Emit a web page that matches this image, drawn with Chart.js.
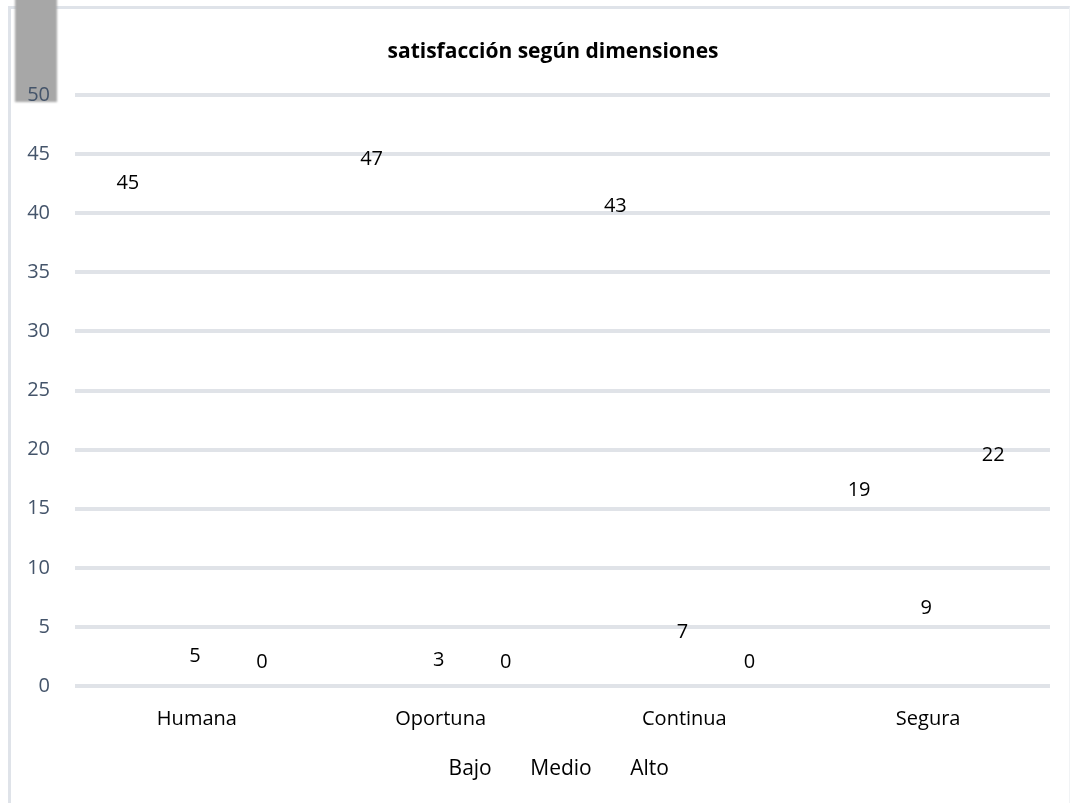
<!DOCTYPE html>
<html>
<head>
<meta charset="utf-8">
<script src="https://cdn.jsdelivr.net/npm/chart.js@4/dist/chart.umd.min.js"></script>
<style>
  html, body { margin: 0; padding: 0; background: #ffffff; }
  #wrap { position: relative; width: 1071px; height: 803px; overflow: hidden; }
  #frame {
    position: absolute; left: 8px; top: 6px; width: 1058px; height: 795px;
    border-left: 3px solid #dfe3e9; border-top: 3px solid #dfe3e9;
    border-right: 1px solid #f1f3f5; border-bottom: 1px solid #f4f5f2;
  }
  #tab {
    position: absolute; left: 15px; top: -4px; width: 42px; height: 106px;
    background: #a7a7a7; filter: blur(1px);
  }
  canvas { position: absolute; left: 0; top: 0; }
</style>
</head>
<body>
<div id="wrap">
  <div id="frame"></div>
  <div id="tab"></div>
  <canvas id="c" width="1071" height="803"></canvas>
</div>
<script>
const categories = ['Humana', 'Oportuna', 'Continua', 'Segura'];
const bajo  = [45, 47, 43, 19];
const medio = [5, 3, 7, 9];
const alto  = [0, 0, 0, 22];
const seriesNames = ['Bajo', 'Medio', 'Alto'];
const yTicks = { min: 0, max: 50, step: 5 };
const chartTitle = 'satisfacción según dimensiones';

const FONT = "'Open Sans', 'Noto Sans', sans-serif";

// Chart heading, drawn slightly right of the canvas centre
const heading = {
  id: 'heading',
  afterDraw(chart) {
    const ctx = chart.ctx;
    ctx.save();
    ctx.font = 'bold 21px ' + FONT;
    ctx.fillStyle = '#000000';
    ctx.textAlign = 'center';
    ctx.textBaseline = 'middle';
    ctx.fillText(chartTitle, 553, 52);
    ctx.restore();
  }
};

// Centre the legend row under the plot rather than the whole canvas
const legendShift = {
  id: 'legendShift',
  afterLayout(chart) {
    if (chart.legend) chart.legend.left = 39;
  }
};

// Value labels placed just inside the top of each bar
const valueLabels = {
  id: 'valueLabels',
  afterDatasetsDraw(chart) {
    const ctx = chart.ctx;
    ctx.save();
    ctx.font = '20px ' + FONT;
    ctx.fillStyle = '#000000';
    ctx.textAlign = 'center';
    ctx.textBaseline = 'middle';
    chart.data.datasets.forEach((ds, i) => {
      const meta = chart.getDatasetMeta(i);
      meta.data.forEach((bar, j) => {
        const y = Math.min(bar.y + 29, bar.base - 24);
        ctx.fillText(String(ds.data[j]), bar.x - 2, y);
      });
    });
    ctx.restore();
  }
};

const invisible = 'rgba(255,255,255,0)';

new Chart(document.getElementById('c'), {
  type: 'bar',
  data: {
    labels: categories,
    datasets: [
      { label: seriesNames[0], data: bajo,  backgroundColor: invisible, borderWidth: 0 },
      { label: seriesNames[1], data: medio, backgroundColor: invisible, borderWidth: 0 },
      { label: seriesNames[2], data: alto,  backgroundColor: invisible, borderWidth: 0 }
    ]
  },
  options: {
    responsive: false,
    animation: false,
    devicePixelRatio: 1,
    layout: { padding: { left: 0, right: 21, top: 95, bottom: 13 } },
    datasets: { bar: { categoryPercentage: 0.825, barPercentage: 1.0 } },
    scales: {
      x: {
        grid: { display: false, drawTicks: false },
        border: { display: false },
        ticks: { color: '#000000', font: { family: FONT, size: 20 }, padding: 21 },
        afterFit(s) { s.height = 63; }
      },
      y: {
        min: yTicks.min, max: yTicks.max,
        grid: { color: '#e0e3e8', lineWidth: 4, drawTicks: false },
        border: { display: false },
        ticks: { stepSize: yTicks.step, color: '#44546a', font: { family: FONT, size: 20 }, padding: 25 },
        afterFit(s) { s.width = 75; }
      }
    },
    plugins: {
      title: { display: false },
      legend: {
        position: 'bottom',
        labels: {
          color: '#000000',
          font: { family: FONT, size: 21 },
          boxWidth: 18, boxHeight: 18, padding: 10
        }
      },
      tooltip: { enabled: false }
    }
  },
  plugins: [valueLabels, heading, legendShift]
});
</script>
</body>
</html>
